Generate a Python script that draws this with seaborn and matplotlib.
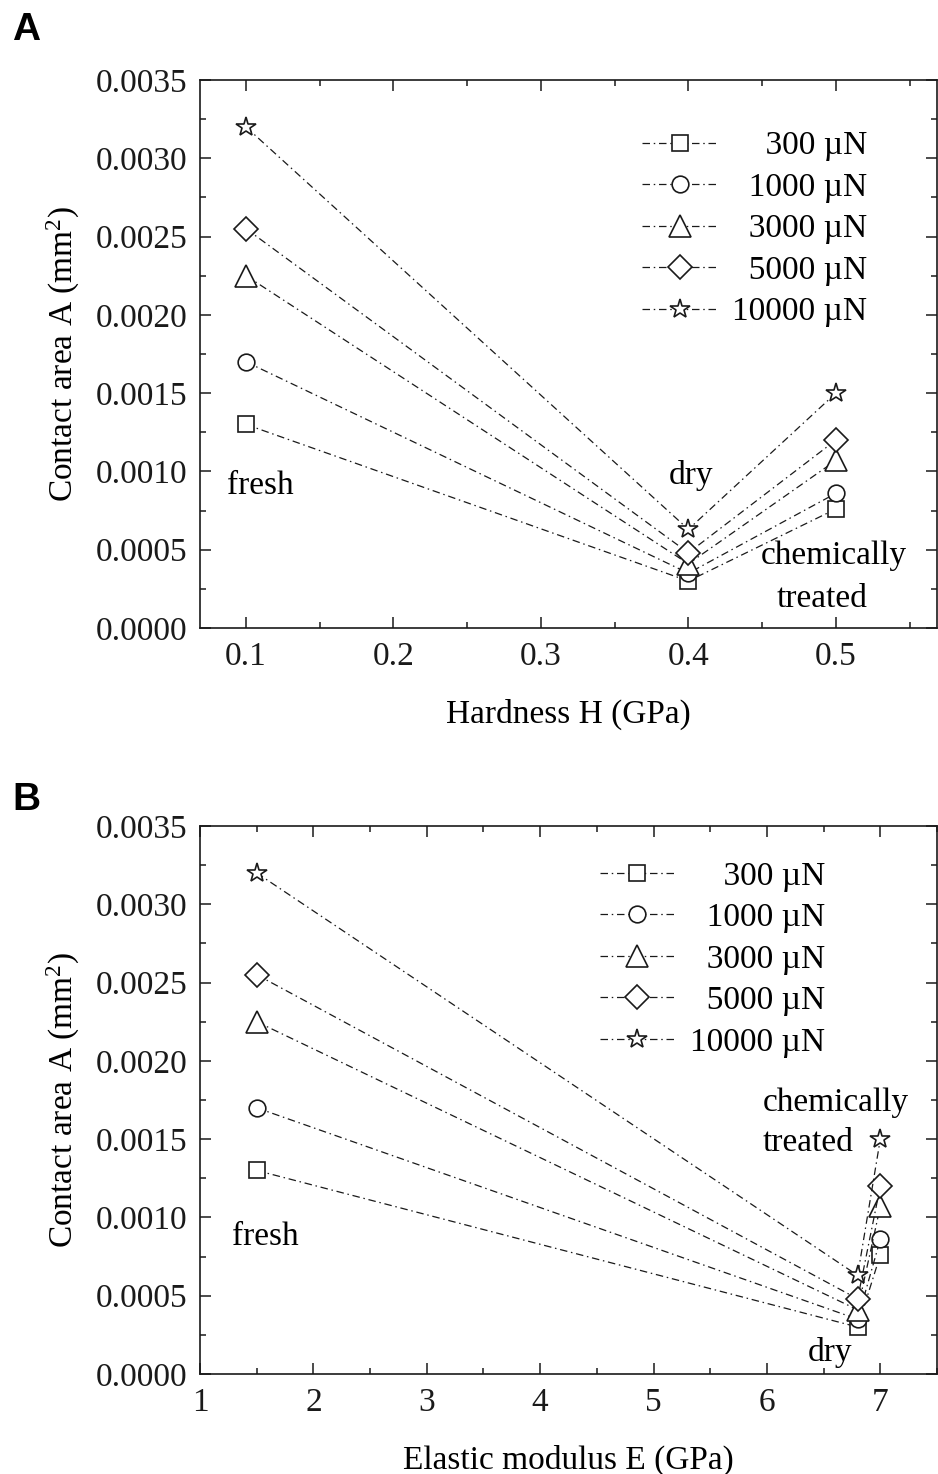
import numpy as np
import pandas as pd
import matplotlib
matplotlib.use("Agg")
import matplotlib.pyplot as plt
import seaborn as sns

# ---- data ----
loads = ["300 µN", "1000 µN", "3000 µN", "5000 µN", "10000 µN"]
states = ["fresh", "dry", "chemically treated"]
hardness = [0.1, 0.4, 0.5]          # GPa
modulus = [1.5, 6.8, 7.0]           # GPa
area_300 = [0.00130, 0.00030, 0.00076]
area_1000 = [0.00170, 0.00035, 0.00086]
area_3000 = [0.00225, 0.00041, 0.00107]
area_5000 = [0.00255, 0.00048, 0.00120]
area_10000 = [0.00320, 0.00063, 0.00150]
areas = [area_300, area_1000, area_3000, area_5000, area_10000]
markers = ["s", "o", "^", "D", "*"]
msizes = [11.5, 12, 15.5, 12.5, 15]

rows = []
for ld, ar in zip(loads, areas):
    for st, h, e, a in zip(states, hardness, modulus, ar):
        rows.append(dict(load=ld, state=st, H=h, E=e, A=a))
df = pd.DataFrame(rows)

sns.set_theme(style="ticks")
plt.rcParams["font.family"] = ["Liberation Serif", "DejaVu Serif"]
plt.rcParams["mathtext.fontset"] = "custom"
plt.rcParams["mathtext.rm"] = "Liberation Serif"
plt.rcParams["mathtext.it"] = "Liberation Serif:italic"
for k in ["text.color", "axes.labelcolor", "xtick.color", "ytick.color", "axes.edgecolor"]:
    plt.rcParams[k] = "black"

FS = 24
fig = plt.figure(figsize=(9.38, 14.74), dpi=100)
axA = fig.add_axes([200/938, 1-628/1474, 737/938, 548/1474])
axB = fig.add_axes([200/938, 1-1374/1474, 737/938, 548/1474])

ls = (0, (6, 3, 1.2, 3))
pad_labels = ["    300 µN", "  1000 µN", "  3000 µN", "  5000 µN", "10000 µN"]

for ax, xcol in [(axA, "H"), (axB, "E")]:
    for ld, lab, m, ms in zip(loads, pad_labels, markers, msizes):
        sub = df[df["load"] == ld]
        sns.lineplot(data=sub, x=xcol, y="A", ax=ax, color="k", sort=False,
                     marker=m, markersize=ms, markerfacecolor="white",
                     markeredgecolor="k", markeredgewidth=1.2,
                     linewidth=0.9, linestyle=ls, label=lab)
    ax.set_ylim(0, 0.0035)
    ax.set_yticks(np.arange(0, 0.00351, 0.0005))
    ax.set_yticklabels([f"{v:.4f}" for v in np.arange(0, 0.00351, 0.0005)])
    ax.yaxis.set_minor_locator(matplotlib.ticker.MultipleLocator(0.00025))
    ax.tick_params(which="both", direction="in", top=True, right=True,
                   labelsize=FS, width=1.1, colors="k")
    ax.tick_params(which="major", length=8)
    ax.tick_params(which="minor", length=4.5)
    ax.tick_params(axis="y", pad=9)
    ax.tick_params(axis="x", pad=10)
    for sp in ax.spines.values():
        sp.set_linewidth(1.2)
        sp.set_color("k")
        sp.set_visible(True)
    ax.set_ylabel("Contact area A (mm$^2$)", fontsize=FS)
    ax.yaxis.set_label_coords(-0.16, 0.5)

# Panel A
axA.set_xlim(0.0688, 0.5686)
axA.set_xticks([0.1, 0.2, 0.3, 0.4, 0.5])
axA.set_xticklabels(["0.1", "0.2", "0.3", "0.4", "0.5"])
axA.xaxis.set_minor_locator(matplotlib.ticker.MultipleLocator(0.05))
axA.set_xlabel("Hardness H (GPa)", fontsize=FS)
axA.xaxis.set_label_coords(0.5, -0.13)
axA.text(0.1095, 0.00091, "fresh", fontsize=FS, ha="center", va="center")
axA.text(0.4015, 0.000977, "dry", fontsize=FS, ha="center", va="center")
axA.text(0.4986, 0.00046, "chemically", fontsize=FS, ha="center", va="center")
axA.text(0.4905, 0.00019, "treated", fontsize=FS, ha="center", va="center")

# Panel B
axB.set_xlim(1, 7.5)
axB.set_xticks([1, 2, 3, 4, 5, 6, 7])
axB.xaxis.set_minor_locator(matplotlib.ticker.MultipleLocator(0.5))
axB.set_xlabel("Elastic modulus E (GPa)", fontsize=FS)
axB.xaxis.set_label_coords(0.5, -0.13)
axB.text(1.574, 0.000875, "fresh", fontsize=FS, ha="center", va="center")
axB.text(6.56, 0.00014, "dry", fontsize=FS, ha="center", va="center")
axB.text(6.61, 0.00173, "chemically", fontsize=FS, ha="center", va="center")
axB.text(6.36, 0.001475, "treated", fontsize=FS, ha="center", va="center")

for ax, anchor in [(axA, (0.906, 0.907)), (axB, (0.848, 0.936))]:
    leg = ax.legend(loc="upper right", bbox_to_anchor=anchor, frameon=False,
                    fontsize=FS, handlelength=2.25, handletextpad=0.45,
                    labelspacing=0.33, borderpad=0, borderaxespad=0, numpoints=1)

fig.text(12/938, 1-40/1474, "A", fontsize=28, fontweight="bold",
         family=["Liberation Sans", "DejaVu Sans"], va="baseline")
fig.text(12/938, 1-810/1474, "B", fontsize=28, fontweight="bold",
         family=["Liberation Sans", "DejaVu Sans"], va="baseline")

fig.savefig("out.png", dpi=100)
